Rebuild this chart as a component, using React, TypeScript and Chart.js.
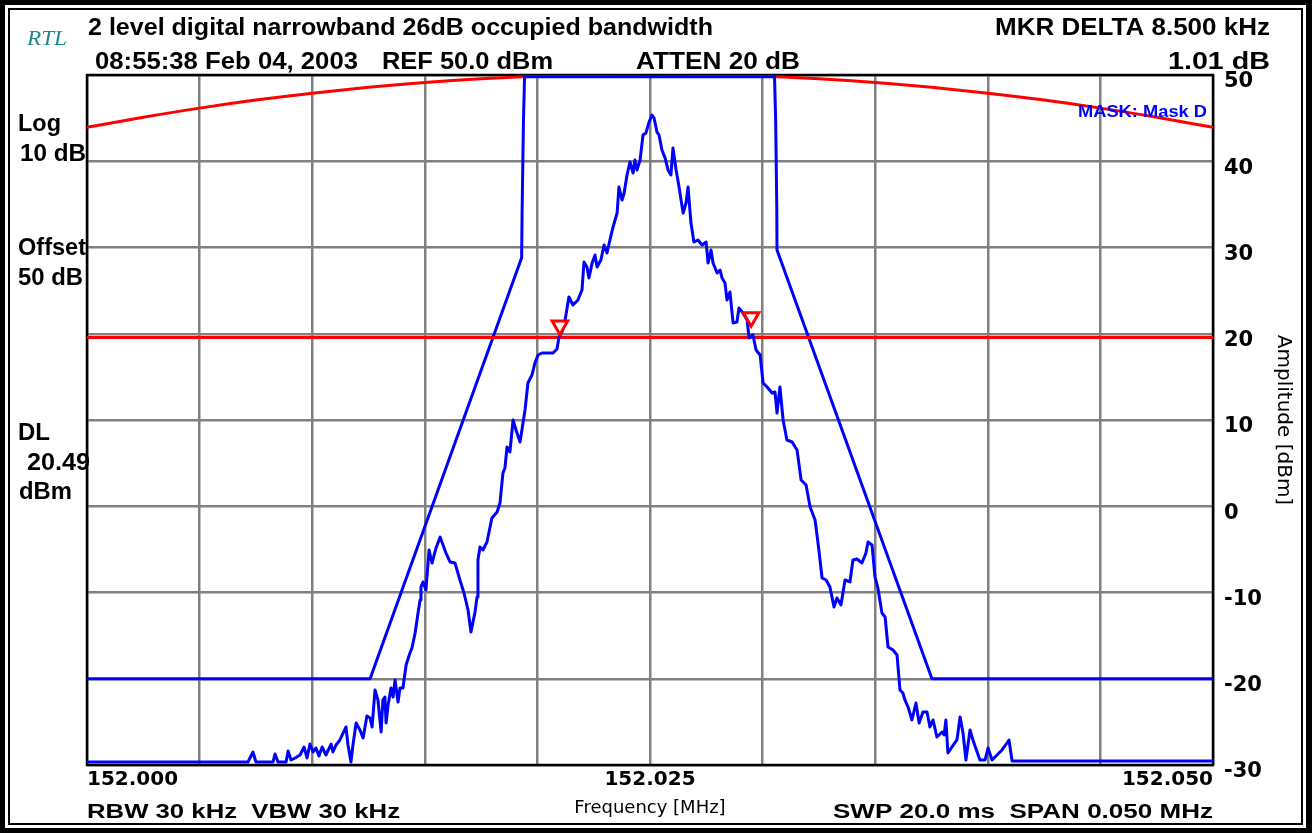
import React, { useEffect, useRef } from "react";
import { Chart, registerables } from "chart.js";

Chart.register(...registerables);

// ---------- data ----------
const START_MHZ = 152.0;
const SPAN_KHZ = 50;
const FREQ_STEP_KHZ = 5;
const FREQ_LABELS_KHZ = [0, 25, 50];
const AMP_MIN = -30;
const AMP_MAX = 50;
const AMP_STEP = 10;

// measured trace: [offset from 152.000 MHz in kHz, amplitude dBm]
const TRACE: [number, number][] = [
  [0, -29.65], [7.15, -29.65], [7.37, -28.49], [7.5, -29.65], [8.26, -29.65], [8.35, -28.72], [8.48, -29.65],
  [8.84, -29.65], [8.93, -28.38], [9.06, -29.42], [9.24, -29.19], [9.46, -28.84], [9.64, -27.91], [9.77, -29.19],
  [9.9, -27.57], [10.04, -28.49], [10.17, -28.03], [10.3, -28.96], [10.44, -27.91], [10.61, -28.84], [10.84, -27.57],
  [10.92, -28.49], [11.06, -27.68], [11.23, -27.1], [11.5, -25.59], [11.59, -27.68], [11.72, -29.65], [11.81, -27.68],
  [11.95, -25.13], [12.12, -25.94], [12.26, -26.87], [12.43, -24.32], [12.57, -24.55], [12.66, -25.59], [12.79, -21.3],
  [12.92, -22.46], [13.06, -26.17], [13.14, -22.46], [13.23, -22.12], [13.28, -25.13], [13.37, -23.04], [13.5, -21.07],
  [13.59, -22.12], [13.68, -20.14], [13.81, -22.7], [13.9, -21.07], [14.03, -21.07], [14.17, -18.41], [14.34, -17.01],
  [14.43, -16.43], [14.57, -14.7], [14.7, -12.38], [14.79, -10.87], [14.83, -9.36], [14.92, -8.78], [15.05, -9.71],
  [15.19, -5.07], [15.32, -6.58], [15.5, -4.84], [15.68, -3.57], [15.94, -5.42], [16.12, -6.46], [16.34, -6.58],
  [16.56, -8.55], [16.74, -10.06], [16.92, -12.03], [17.05, -14.58], [17.23, -12.26], [17.32, -10.52], [17.36, -6.23],
  [17.45, -4.72], [17.58, -5.07], [17.76, -4.14], [17.98, -1.36], [18.21, -0.67], [18.34, 0.38], [18.47, 3.86],
  [18.56, 4.44], [18.65, 6.87], [18.78, 6.29], [18.92, 10.0], [19.05, 8.84], [19.23, 7.45], [19.36, 9.65],
  [19.45, 11.16], [19.58, 14.29], [19.76, 15.22], [19.89, 16.61], [20.03, 17.54], [20.2, 17.77], [20.47, 17.77],
  [20.69, 17.77], [20.87, 18.23], [20.96, 19.62], [21.09, 20.2], [21.23, 21.59], [21.4, 24.26], [21.58, 23.33],
  [21.8, 23.91], [21.98, 25.07], [22.07, 28.32], [22.2, 27.74], [22.29, 26.46], [22.43, 28.2], [22.56, 29.13],
  [22.65, 27.74], [22.82, 28.55], [22.96, 30.29], [23.09, 29.36], [23.22, 30.87], [23.36, 32.38], [23.54, 34.0],
  [23.62, 37.01], [23.76, 35.51], [23.85, 36.32], [23.98, 38.41], [24.11, 39.91], [24.25, 38.64], [24.33, 40.14],
  [24.42, 38.99], [24.56, 40.14], [24.69, 43.04], [24.82, 43.28], [24.96, 44.55], [25.09, 45.36], [25.18, 45.01],
  [25.31, 43.39], [25.4, 43.04], [25.53, 41.3], [25.67, 40.38], [25.8, 38.99], [25.93, 38.41], [26.02, 41.54],
  [26.16, 38.99], [26.29, 37.01], [26.47, 34.0], [26.6, 35.16], [26.69, 37.01], [26.82, 32.84], [26.95, 30.64],
  [27.13, 30.87], [27.31, 30.29], [27.49, 30.64], [27.58, 28.2], [27.71, 29.71], [27.8, 28.2], [27.98, 27.04],
  [28.11, 27.39], [28.2, 26.46], [28.33, 25.88], [28.42, 23.91], [28.55, 24.84], [28.69, 21.25], [28.86, 21.36],
  [28.95, 22.99], [29.13, 22.41], [29.31, 21.59], [29.4, 19.51], [29.57, 19.86], [29.71, 18.12], [29.89, 17.54],
  [30.02, 14.29], [30.2, 13.83], [30.42, 13.13], [30.55, 13.25], [30.64, 10.81], [30.77, 13.83], [30.91, 10.0],
  [31.08, 7.68], [31.31, 7.45], [31.53, 6.52], [31.71, 3.04], [31.93, 2.46], [32.11, -0.09], [32.33, -1.59],
  [32.5, -5.07], [32.64, -8.32], [32.82, -8.55], [32.99, -9.36], [33.17, -11.68], [33.3, -10.64], [33.48, -11.45],
  [33.66, -8.55], [33.88, -8.78], [34.01, -6.23], [34.19, -6.12], [34.41, -6.58], [34.59, -5.42], [34.68, -4.14],
  [34.86, -4.49], [34.99, -8.2], [35.12, -9.48], [35.3, -12.38], [35.44, -12.84], [35.57, -16.32], [35.79, -16.67],
  [35.97, -17.25], [36.1, -21.3], [36.23, -21.65], [36.32, -22.46], [36.46, -23.28], [36.63, -24.78], [36.81, -22.81],
  [36.95, -25.13], [37.12, -23.86], [37.3, -23.86], [37.43, -25.59], [37.57, -24.78], [37.74, -26.75], [37.97, -26.17],
  [38.06, -26.52], [38.14, -24.78], [38.23, -28.61], [38.41, -27.91], [38.63, -27.1], [38.77, -24.43], [38.9, -26.29],
  [39.03, -29.42], [39.21, -25.94], [39.34, -27.1], [39.65, -29.42], [39.88, -29.42], [40.01, -28.03], [40.19, -29.42],
  [40.63, -28.26], [40.85, -27.45], [40.94, -27.1], [41.08, -29.54], [50, -29.54],
];

// limit mask "Mask D" (blue)
const LIMIT_MASK: [number, number][] = [
  [0, -20], [12.57, -20], [19.3, 28.8], [19.32, 34.0], [19.38, 44.6], [19.43, 49.8],
  [30.53, 49.8], [30.58, 44.8], [30.63, 34.7], [30.64, 29.7], [37.52, -20], [50, -20],
];

// upper red mask curve
const UPPER_MASK: [number, number][] = [
  [0, 43.93], [2.5, 45.1], [5, 46.16], [7.5, 47.09], [10, 47.89], [12.5, 48.57], [15, 49.13],
  [17.5, 49.56], [20, 49.87], [22.5, 50.06], [25, 50.12], [27.5, 50.06], [30, 49.87], [32.5, 49.56],
  [35, 49.13], [37.5, 48.57], [40, 47.89], [42.5, 47.09], [45, 46.16], [47.5, 45.1], [50, 43.93],
];

const DISPLAY_LINE_DBM = 19.57;
const MARKERS: [number, number][] = [[21.0, 20.95], [29.49, 21.9]];

// ---------- drawing helpers ----------
const W = 1312;
const H = 833;

type TextItem = {
  t: string; x: number; y: number; w: number; cap: number;
  color?: string; serif?: boolean; italic?: boolean; bold?: boolean;
};

const TEXTS: TextItem[] = [
  { t: "RTL", x: 27, y: 45, w: 40, cap: 14, color: "#1b8a8a", serif: true, italic: true, bold: false },
  { t: "2 level digital narrowband 26dB occupied bandwidth", x: 88, y: 35, w: 625, cap: 17 },
  { t: "MKR DELTA 8.500 kHz", x: 995, y: 35, w: 275, cap: 17 },
  { t: "08:55:38 Feb 04, 2003", x: 95, y: 69, w: 263, cap: 17 },
  { t: "REF 50.0 dBm", x: 382, y: 69, w: 171, cap: 17 },
  { t: "ATTEN 20 dB", x: 636, y: 69, w: 164, cap: 17 },
  { t: "1.01 dB", x: 1168, y: 69, w: 102, cap: 17 },
  { t: "Log", x: 18, y: 131, w: 43, cap: 17 },
  { t: "10 dB", x: 20, y: 161, w: 66, cap: 17 },
  { t: "Offset", x: 18, y: 255, w: 68, cap: 17 },
  { t: "50 dB", x: 18, y: 285, w: 65, cap: 17 },
  { t: "DL", x: 18, y: 440, w: 32, cap: 17 },
  { t: "20.49", x: 27, y: 470, w: 63, cap: 17 },
  { t: "dBm", x: 19, y: 499, w: 53, cap: 17 },
  { t: "RBW 30 kHz  VBW 30 kHz", x: 87, y: 818, w: 313, cap: 15 },
  { t: "SWP 20.0 ms  SPAN 0.050 MHz", x: 833, y: 818, w: 380, cap: 15 },
  { t: "MASK: Mask D", x: 1078, y: 117, w: 129, cap: 12, color: "#0000ff" },
];

function drawFitText(ctx: CanvasRenderingContext2D, it: TextItem) {
  const bold = it.bold !== false;
  const fam = it.serif ? '"Liberation Serif", serif' : '"Liberation Sans", Arial, sans-serif';
  const size = it.cap / (it.serif ? 0.66 : 0.716);
  ctx.save();
  ctx.font = `${it.italic ? "italic " : ""}${bold ? "bold " : ""}${size.toFixed(1)}px ${fam}`;
  ctx.fillStyle = it.color || "#000";
  ctx.textBaseline = "alphabetic";
  ctx.textAlign = "left";
  const m = ctx.measureText(it.t).width || 1;
  ctx.translate(it.x, it.y);
  ctx.scale(it.w / m, 1);
  ctx.fillText(it.t, 0, 0);
  ctx.restore();
}

const framePlugin = {
  id: "frame",
  beforeDraw(chart: any) {
    const ctx = chart.ctx as CanvasRenderingContext2D;
    ctx.save();
    ctx.fillStyle = "#000";
    ctx.fillRect(0, 0, W, H);
    ctx.fillStyle = "#fff";
    ctx.fillRect(5, 5, W - 11, H - 10);
    ctx.strokeStyle = "#000";
    ctx.lineWidth = 2;
    ctx.strokeRect(9, 9, W - 19, H - 18);
    ctx.restore();
  },
};

const plotBorderPlugin = {
  id: "plotBorder",
  beforeDatasetsDraw(chart: any) {
    const { ctx, chartArea } = chart;
    ctx.save();
    ctx.strokeStyle = "#000";
    ctx.lineWidth = 2.5;
    ctx.strokeRect(chartArea.left, chartArea.top, chartArea.right - chartArea.left, chartArea.bottom - chartArea.top);
    ctx.restore();
  },
};

const textPlugin = {
  id: "texts",
  afterDraw(chart: any) {
    const ctx = chart.ctx as CanvasRenderingContext2D;
    TEXTS.forEach((it) => drawFitText(ctx, it));
  },
};

const toXY = (arr: [number, number][]) => arr.map(([x, y]) => ({ x, y }));

export default function App() {
  const ref = useRef<HTMLCanvasElement | null>(null);

  useEffect(() => {
    document.body.style.margin = "0";
    const canvas = ref.current;
    if (!canvas) return;
    const chart = new Chart(canvas, {
      type: "line",
      data: {
        datasets: [
          {
            label: "markers",
            data: toXY(MARKERS),
            showLine: false,
            pointStyle: "triangle",
            pointRotation: 180,
            pointRadius: 9,
            pointBorderWidth: 3,
            pointBorderColor: "#ff0000",
            pointBackgroundColor: "#ffffff",
          } as any,
          {
            label: "trace",
            data: toXY(TRACE),
            borderColor: "#0000ff",
            borderWidth: 3,
            borderJoinStyle: "round",
            pointRadius: 0,
            tension: 0,
          },
          {
            label: "display line",
            data: [{ x: 0, y: DISPLAY_LINE_DBM }, { x: SPAN_KHZ, y: DISPLAY_LINE_DBM }],
            borderColor: "#ff0000",
            borderWidth: 3,
            pointRadius: 0,
          },
          {
            label: "Mask D",
            data: toXY(LIMIT_MASK),
            borderColor: "#0000ff",
            borderWidth: 3,
            borderJoinStyle: "round",
            pointRadius: 0,
          },
          {
            label: "upper mask",
            data: toXY(UPPER_MASK),
            borderColor: "#ff0000",
            borderWidth: 3,
            pointRadius: 0,
            cubicInterpolationMode: "monotone",
          },
        ],
      },
      options: {
        responsive: false,
        animation: false,
        events: [],
        layout: { padding: { left: 87, top: 75, right: 0, bottom: 0 } },
        plugins: { legend: { display: false }, tooltip: { enabled: false } },
        scales: {
          x: {
            type: "linear",
            min: 0,
            max: SPAN_KHZ,
            ticks: {
              stepSize: FREQ_STEP_KHZ,
              autoSkip: false,
              maxRotation: 0,
              align: "inner",
              padding: 3,
              color: "#000",
              font: { family: '"DejaVu Sans", sans-serif', size: 20, weight: "bold" },
              callback: (v: any) =>
                FREQ_LABELS_KHZ.includes(Number(v)) ? (START_MHZ + Number(v) / 1000).toFixed(3) : "",
            },
            grid: { color: "#808080", lineWidth: 2.5, drawTicks: false },
            border: { display: false },
            title: {
              display: true,
              text: "Frequency [MHz]",
              color: "#000",
              font: { family: '"DejaVu Sans", sans-serif', size: 18 },
              padding: { top: 0, bottom: 14 },
            },
            afterFit: (s: any) => {
              s.height = 68;
            },
          },
          y: {
            type: "linear",
            position: "right",
            min: AMP_MIN,
            max: AMP_MAX,
            ticks: {
              stepSize: AMP_STEP,
              padding: 11,
              labelOffset: 7,
              color: "#000",
              font: { family: '"DejaVu Sans", sans-serif', size: 21, weight: "bold" },
            },
            grid: { color: "#808080", lineWidth: 2.5, drawTicks: false },
            border: { display: false },
            title: {
              display: true,
              text: "Amplitude [dBm]",
              color: "#000",
              font: { family: '"DejaVu Sans", sans-serif', size: 20 },
              padding: { top: 17, bottom: 0 },
            },
            afterFit: (s: any) => {
              s.width = 99;
            },
          },
        },
      } as any,
      plugins: [framePlugin, plotBorderPlugin, textPlugin],
    });
    return () => chart.destroy();
  }, []);

  return (
    <div style={{ position: "fixed", left: 0, top: 0, width: W, height: H }}>
      <canvas ref={ref} width={W} height={H} style={{ display: "block", width: W, height: H }} />
    </div>
  );
}
